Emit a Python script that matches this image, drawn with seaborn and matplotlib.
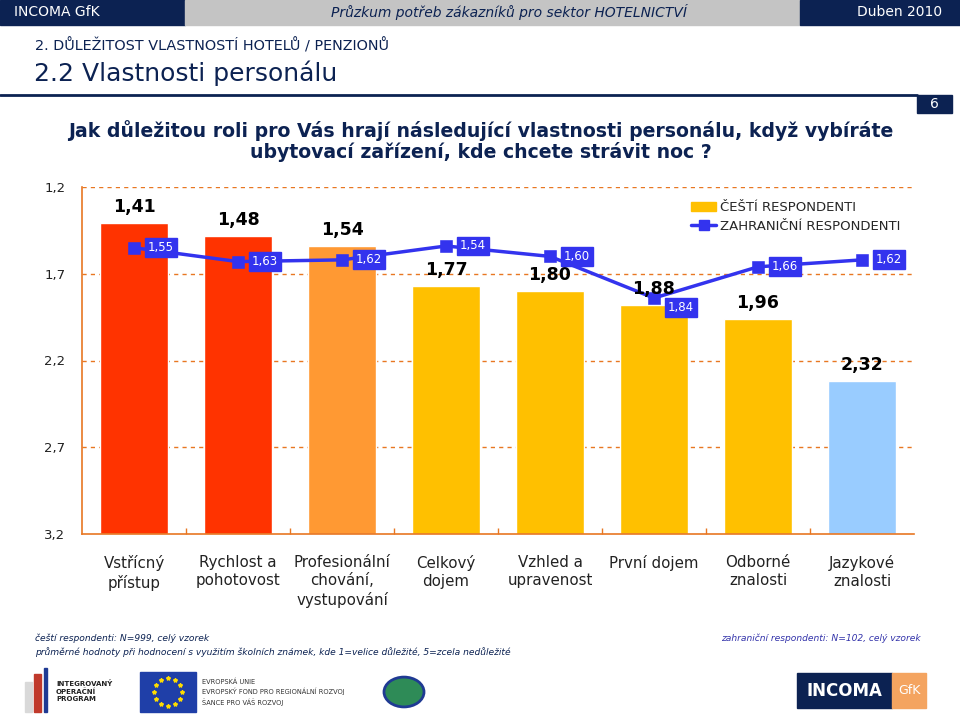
import numpy as np
import pandas as pd
import matplotlib
matplotlib.use("Agg")
import matplotlib.pyplot as plt
import seaborn as sns
from matplotlib.patches import Rectangle, Patch, Circle
from matplotlib.lines import Line2D

# ──────────────────────────────
#  Data
# ──────────────────────────────
categories = ["Vstřícný\npřístup", "Rychlost a\npohotovost", "Profesionální\nchování,\nvystupování",
              "Celkový\ndojem", "Vzhled a\nupravenost", "První dojem", "Odborné\nznalosti",
              "Jazykové\nznalosti"]
czech = [1.41, 1.48, 1.54, 1.77, 1.80, 1.88, 1.96, 2.32]
foreign = [1.55, 1.63, 1.62, 1.54, 1.60, 1.84, 1.66, 1.62]
bar_colors = ["#FF3300", "#FF3300", "#FF9933", "#FFC000", "#FFC000", "#FFC000", "#FFC000", "#99CCFF"]
yticks = [1.2, 1.7, 2.2, 2.7, 3.2]
BASE = 3.2

NAVY = "#0C2252"
ORANGE = "#E87722"
BLUE = "#3333EE"

sns.set_theme(style="white")
plt.rcParams["font.family"] = ["DejaVu Sans"]

fig = plt.figure(figsize=(9.6, 7.16), dpi=100)
W, H = 960, 716


def fx(px):
    return px / W


def fy(py):
    return 1 - py / H


# ──────────────────────────────
#  Header
# ──────────────────────────────
fig.patches.append(Rectangle((0, fy(25)), fx(185), 25 / H, transform=fig.transFigure, color=NAVY))
fig.patches.append(Rectangle((fx(185), fy(25)), fx(615), 25 / H, transform=fig.transFigure, color="#C4C4C4"))
fig.patches.append(Rectangle((fx(800), fy(25)), fx(160), 25 / H, transform=fig.transFigure, color=NAVY))
fig.text(fx(14), fy(12.5), "INCOMA GfK", color="white", fontsize=10, va="center")
fig.text(fx(509), fy(12.5), "Průzkum potřeb zákazníků pro sektor HOTELNICTVÍ", color=NAVY,
         fontsize=10, style="italic", va="center", ha="center")
fig.text(fx(942), fy(12.5), "Duben 2010", color="white", fontsize=10, va="center", ha="right")
fig.text(fx(35), fy(46), "2. DŮLEŽITOST VLASTNOSTÍ HOTELŮ / PENZIONŮ", color=NAVY, fontsize=10.4, va="center")
fig.text(fx(34), fy(73), "2.2 Vlastnosti personálu", color=NAVY, fontsize=18, va="center")
fig.add_artist(Line2D([0, fx(917)], [fy(95), fy(95)], transform=fig.transFigure, color=NAVY, lw=2))
fig.patches.append(Rectangle((fx(917), fy(113)), fx(35), 18 / H, transform=fig.transFigure, color=NAVY))
fig.text(fx(934.5), fy(104), "6", color="white", fontsize=10, va="center", ha="center")
fig.text(fx(481), fy(141), "Jak důležitou roli pro Vás hrají následující vlastnosti personálu, když vybíráte\n"
         "ubytovací zařízení, kde chcete strávit noc ?", color=NAVY, fontsize=13.6,
         fontweight="bold", ha="center", va="center", linespacing=1.05)

# ──────────────────────────────
#  Chart
# ──────────────────────────────
ax = fig.add_axes([fx(82), fy(534), fx(832), (534 - 187) / H])
df = pd.DataFrame({"cat": categories, "czech": czech, "foreign": foreign})
df["height"] = df["czech"] - BASE

sns.barplot(data=df, x="cat", y="height", hue="cat", palette=bar_colors, legend=False,
            bottom=BASE, width=0.66, ax=ax, saturation=1)
sns.pointplot(data=df, x="cat", y="foreign", color=BLUE, markers="s", markersize=7,
              linewidth=2.5, ax=ax)

ax.set_ylim(3.2, 1.2)
ax.set_xlim(-0.5, len(categories) - 0.5)
ax.set_yticks(yticks)
ax.set_yticklabels([f"{t:.1f}".replace(".", ",") for t in yticks], fontsize=9.5, color="#222222")
ax.set_xticks(range(len(categories)))
ax.set_xticklabels(categories, fontsize=10.8, color="#222222", linespacing=1.3)
ax.set_xlabel("")
ax.set_ylabel("")
ax.tick_params(axis="x", length=0, pad=15)
ax.tick_params(axis="y", length=0, pad=12)
ax.set_xticks(np.arange(0.5, len(categories) - 0.5, 1), minor=True)
ax.tick_params(axis="x", which="minor", direction="in", length=4, color=ORANGE, width=1, bottom=True)
for t in yticks[:-1]:
    ax.axhline(t, color=ORANGE, ls=(0, (3, 3)), lw=1, zorder=0)
for s in ["top", "right"]:
    ax.spines[s].set_visible(False)
for s in ["left", "bottom"]:
    ax.spines[s].set_color(ORANGE)
    ax.spines[s].set_linewidth(1.2)

# value labels
for i, v in enumerate(czech):
    ax.annotate(f"{v:.2f}".replace(".", ","), (i, v), xytext=(0, 5), textcoords="offset points",
                ha="center", va="bottom", fontsize=12.5, fontweight="bold", color="black")
for i, v in enumerate(foreign):
    ax.annotate(f"{v:.2f}".replace(".", ","), (i, v), xytext=(10, -7 if v > 1.8 else 0),
                textcoords="offset points", ha="left", va="center", fontsize=8.5, color="white",
                bbox=dict(boxstyle="square,pad=0.25", fc=BLUE, ec=BLUE), zorder=5)

handles = [Patch(color="#FFC000", label="ČEŠTÍ RESPONDENTI"),
           Line2D([], [], color=BLUE, marker="s", markersize=7, lw=2.5, label="ZAHRANIČNÍ RESPONDENTI")]
ax.legend(handles=handles, loc="upper right", bbox_to_anchor=(0.995, 0.985), frameon=False,
          fontsize=9.5, handlelength=1.9, handletextpad=0.3, labelspacing=0.4, borderpad=0.2)

# ──────────────────────────────
#  Footer notes
# ──────────────────────────────
fig.text(fx(35), fy(638), "čeští respondenti: N=999, celý vzorek", color=NAVY, fontsize=6.6,
         style="italic", va="center")
fig.text(fx(35), fy(652), "průměrné hodnoty při hodnocení s využitím školních známek, kde 1=velice důležité, "
         "5=zcela nedůležité", color=NAVY, fontsize=6.6, style="italic", va="center")
fig.text(fx(921), fy(638), "zahraniční respondenti: N=102, celý vzorek", color="#3333AA", fontsize=6.6,
         style="italic", va="center", ha="right")

# logos (rough)
fig.patches.append(Rectangle((fx(25), fy(712)), fx(7), 30 / H, transform=fig.transFigure, color="#D9D9D9"))
fig.patches.append(Rectangle((fx(34), fy(712)), fx(7), 38 / H, transform=fig.transFigure, color="#C0392B"))
fig.patches.append(Rectangle((fx(44), fy(712)), fx(3), 44 / H, transform=fig.transFigure, color="#1F3A93"))
fig.text(fx(56), fy(691), "INTEGROVANÝ\nOPERAČNÍ\nPROGRAM", color="#222222", fontsize=5,
         fontweight="bold", va="center", linespacing=1.3)
fig.patches.append(Rectangle((fx(140), fy(712)), fx(56), 40 / H, transform=fig.transFigure, color="#1F3FA8"))
ang = np.linspace(0, 2 * np.pi, 13)[:-1]
fig.add_artist(Line2D(fx(168) + 14 / W * np.cos(ang), fy(692) + 14 / H * np.sin(ang),
                      transform=fig.transFigure, ls="", marker="*", markersize=3, color="#FFDD00"))
fig.text(fx(202), fy(692), "EVROPSKÁ UNIE\nEVROPSKÝ FOND PRO REGIONÁLNÍ ROZVOJ\nŠANCE PRO VÁŠ ROZVOJ",
         color="#333333", fontsize=4.8, va="center", linespacing=1.5)
fig.add_artist(Circle((fx(404), fy(692)), 20 / W, transform=fig.transFigure, fc="#2E8B57", ec="#1F3A93", lw=2))
fig.patches.append(Rectangle((fx(797), fy(708)), fx(95), 35 / H, transform=fig.transFigure, color=NAVY))
fig.patches.append(Rectangle((fx(892), fy(708)), fx(34), 35 / H, transform=fig.transFigure, color="#F4A460"))
fig.text(fx(844.5), fy(690.5), "INCOMA", color="white", fontsize=12, fontweight="bold", ha="center", va="center")
fig.text(fx(909), fy(690.5), "GfK", color="white", fontsize=9, ha="center", va="center")

fig.savefig("out.png", dpi=100)
